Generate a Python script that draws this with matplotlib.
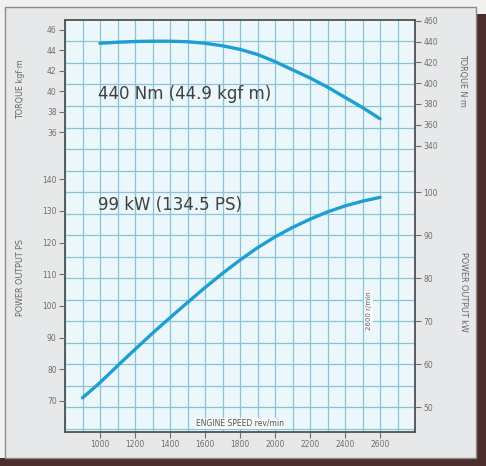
import matplotlib
matplotlib.use("Agg")
import matplotlib.pyplot as plt
from matplotlib.patches import Rectangle
from matplotlib.ticker import MultipleLocator, FixedLocator

# ---- data ----
torque_rpm = [1000, 1100, 1200, 1300, 1400, 1500, 1600, 1700, 1800, 1900,
              2000, 2100, 2200, 2300, 2400, 2500, 2600]
torque_kgfm = [44.7, 44.8, 44.87, 44.9, 44.9, 44.85, 44.7, 44.45, 44.1, 43.6,
               42.9, 42.1, 41.3, 40.4, 39.4, 38.4, 37.3]

power_rpm = [900, 1000, 1100, 1200, 1300, 1400, 1500, 1600, 1700, 1800,
             1900, 2000, 2100, 2200, 2300, 2400, 2500, 2600]
power_ps = [71.0, 75.8, 81.1, 86.3, 91.4, 96.3, 101.1, 105.8, 110.3, 114.5,
            118.4, 121.8, 124.8, 127.4, 129.7, 131.6, 133.1, 134.3]

x_ticks = [1000, 1200, 1400, 1600, 1800, 2000, 2200, 2400, 2600]
kgf_ticks = [36, 38, 40, 42, 44, 46]
nm_ticks = [340, 360, 380, 400, 420, 440, 460]
ps_ticks = [70, 80, 90, 100, 110, 120, 130, 140]
kw_ticks = [50, 60, 70, 80, 90, 100]

torque_label = "440 Nm (44.9 kgf m)"
power_label = "99 kW (134.5 PS)"

# ---- scales ----
KGF_LIM = (6.59, 46.98)
NM_PER_KGF = 9.80665
PS_LIM = (60.21, 190.3)
KW_PER_PS = 0.7355
X_LIM = (800, 2800)

W, H = 486, 466
fig = plt.figure(figsize=(W / 100, H / 100), dpi=100)
fig.patch.set_facecolor("#f1f1f0")

# brochure panel and dark shadow edges
fig.add_artist(Rectangle((0, 0), 1, 8 / H, transform=fig.transFigure,
                         facecolor="#4b2d2b", edgecolor="none", zorder=-5))
fig.add_artist(Rectangle((476 / W, 0), 10 / W, 1 - 14 / H, transform=fig.transFigure,
                         facecolor="#4b2d2b", edgecolor="none", zorder=-5))
fig.add_artist(Rectangle((5 / W, 8 / H), 471 / W, (458 - 7) / H, transform=fig.transFigure,
                         facecolor="#e6e8ea", edgecolor="#8c8c8c", lw=1.0, zorder=-4))

rect = [65 / W, (H - 432) / H, 350 / W, 412 / H]
tick_col = "#6f6f6f"
grid_col = "#8cc2d6"

# base axes: grid, x axis, kW axis (right)
base = fig.add_axes(rect, zorder=0)
base.set_facecolor("#ecf7fb")
base.set_xlim(*X_LIM)
base.set_ylim(PS_LIM[0] * KW_PER_PS, PS_LIM[1] * KW_PER_PS)
base.xaxis.set_major_locator(FixedLocator(x_ticks))
base.xaxis.set_minor_locator(MultipleLocator(100))
base.yaxis.set_major_locator(FixedLocator(kw_ticks))
base.yaxis.set_minor_locator(MultipleLocator(5))
base.grid(True, which="both", color=grid_col, lw=0.9)
base.set_axisbelow(True)
base.yaxis.tick_right()
base.tick_params(axis="both", which="major", direction="out", length=4, width=0.8,
                 colors=tick_col, labelsize=5.5, pad=2)
base.tick_params(axis="both", which="minor", length=0)
for s in base.spines.values():
    s.set_color("#505050")
    s.set_linewidth(1.3)

# torque axes (kgf·m left, N·m right)
ax_t = fig.add_axes(rect, zorder=2)
ax_t.patch.set_visible(False)
ax_t.set_frame_on(False)
ax_t.set_xlim(*X_LIM)
ax_t.set_ylim(*KGF_LIM)
ax_t.set_xticks([])
ax_t.yaxis.set_major_locator(FixedLocator(kgf_ticks))
ax_t.tick_params(axis="y", direction="out", length=4, width=0.8, colors=tick_col,
                 labelsize=5.5, pad=2)
ax_t.plot(torque_rpm, torque_kgfm, color="#1d9fd3", lw=2.4, solid_capstyle="round")
ax_t.text(990, 39.7, torque_label, fontsize=12, color="#404040", va="center", ha="left")

ax_n = ax_t.twinx()
ax_n.set_frame_on(False)
ax_n.set_ylim(KGF_LIM[0] * NM_PER_KGF, KGF_LIM[1] * NM_PER_KGF)
ax_n.yaxis.set_major_locator(FixedLocator(nm_ticks))
ax_n.tick_params(axis="y", direction="out", length=4, width=0.8, colors=tick_col,
                 labelsize=5.5, pad=2)

# power axes (PS left)
ax_p = fig.add_axes(rect, zorder=3)
ax_p.patch.set_visible(False)
ax_p.set_frame_on(False)
ax_p.set_xlim(*X_LIM)
ax_p.set_ylim(*PS_LIM)
ax_p.set_xticks([])
ax_p.yaxis.set_major_locator(FixedLocator(ps_ticks))
ax_p.tick_params(axis="y", direction="out", length=4, width=0.8, colors=tick_col,
                 labelsize=5.5, pad=2)
ax_p.plot(power_rpm, power_ps, color="#1d9fd3", lw=2.4, solid_capstyle="round")
ax_p.text(990, 131.8, power_label, fontsize=12, color="#404040", va="center", ha="left")

ax_p.text(1800, 63.0, "ENGINE SPEED rev/min", fontsize=5.5, color="#555555",
          ha="center", va="center",
          bbox=dict(boxstyle="square,pad=0.15", facecolor="#f4f8f9", edgecolor="none"))
ax_p.text(2535, 98.5, "2600 r/min", fontsize=5, color="#666666", rotation=90,
          ha="center", va="center",
          bbox=dict(boxstyle="square,pad=0.2", facecolor="#f4f8f9", edgecolor="none"))

# axis titles
lab_kw = dict(fontsize=5.8, color="#666666", ha="center", va="center")
fig.text(21 / W, 1 - 89 / H, "TORQUE kgf·m", rotation=90, **lab_kw)
fig.text(21 / W, 1 - 278 / H, "POWER OUTPUT PS", rotation=90, **lab_kw)
fig.text(463 / W, 1 - 80 / H, "TORQUE N·m", rotation=270, **lab_kw)
fig.text(463 / W, 1 - 292 / H, "POWER OUTPUT kW", rotation=270, **lab_kw)

fig.savefig("out.png", dpi=100, facecolor=fig.get_facecolor())
